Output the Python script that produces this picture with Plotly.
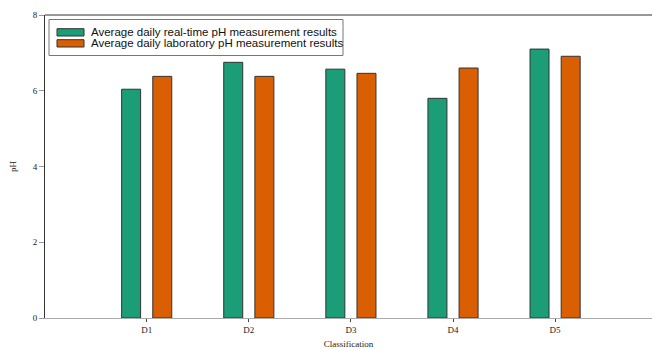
import plotly.graph_objects as go

categories = ["D1", "D2", "D3", "D4", "D5"]
realtime_ph = [6.04, 6.75, 6.57, 5.80, 7.10]
lab_ph = [6.38, 6.38, 6.46, 6.60, 6.91]
y_ticks = [0, 2, 4, 6, 8]
series_names = ["Average daily real-time pH measurement results",
                "Average daily laboratory pH measurement results"]
series_colors = ["#1b9e77", "#d95f02"]

fig = go.Figure()
for name, vals, col in zip(series_names, [realtime_ph, lab_ph], series_colors):
    fig.add_trace(go.Bar(x=categories, y=vals, name=name, showlegend=False,
                         marker=dict(color=col, line=dict(color="#333333", width=1))))

L, R, T, B = 45, 1, 15, 32
W, H = 653, 350
pw, ph = W - L - R, H - T - B

def px(x):
    return (x - L) / pw

def py(y):
    return (H - B - y) / ph

fig.update_layout(
    width=W, height=H,
    margin=dict(l=L, r=R, t=T, b=B, autoexpand=False),
    plot_bgcolor="white", paper_bgcolor="white",
    barmode="group", bargap=0.39, bargroupgap=0.39,
    font=dict(family="Liberation Serif", size=9, color="#222222"),
    showlegend=False,
    xaxis=dict(range=[-0.996, 4.949], showline=True, linecolor="#aaaaaa", linewidth=1,
               ticks="outside", ticklen=3, tickcolor="#444444", showgrid=False,
               automargin=False,
               title=dict(text="Classification", standoff=6,
                          font=dict(family="Liberation Serif", size=9))),
    yaxis=dict(range=[0, 8], tickvals=y_ticks, showline=True, linecolor="#333333", linewidth=1,
               ticks="outside", ticklen=5, tickcolor="#999999", showgrid=False, zeroline=False,
               automargin=False,
               title=dict(text="pH", standoff=14,
                          font=dict(family="Liberation Serif", size=9))),
)
# top frame line
fig.add_shape(type="line", xref="paper", yref="paper", x0=0, x1=1, y0=1, y1=1,
              line=dict(color="#333333", width=1))

# legend box
fig.add_shape(type="rect", xref="paper", yref="paper",
              x0=px(49), x1=px(343), y0=py(55.5), y1=py(19.5),
              line=dict(color="#777777", width=1), fillcolor="white", layer="above")
sw_tops = [28.7, 39.7]
for i, (name, col) in enumerate(zip(series_names, series_colors)):
    t0 = sw_tops[i]
    fig.add_shape(type="rect", xref="paper", yref="paper",
                  x0=px(57), x1=px(84), y0=py(t0 + 7.3), y1=py(t0),
                  line=dict(color="#333333", width=1), fillcolor=col, layer="above")
    fig.add_annotation(xref="paper", yref="paper", x=px(89), y=py(t0 + 3.7),
                       xanchor="left", yanchor="middle", showarrow=False, text=name,
                       font=dict(family="Liberation Sans", size=11.5, color="#111111"))

fig.write_html("out.html", config={"displayModeBar": False},
               post_script="document.body.style.margin='0';")
